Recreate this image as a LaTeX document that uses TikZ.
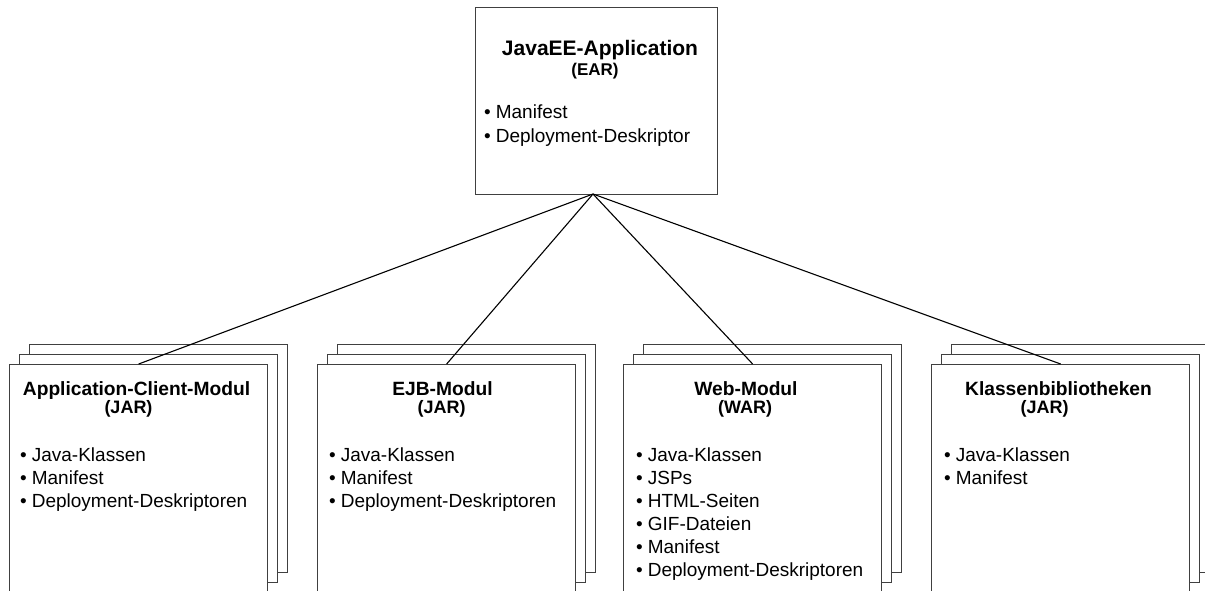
\documentclass[tikz,border=0pt]{standalone}
\usepackage{fontspec}
\setmainfont{Liberation Sans}
\definecolor{boxgray}{HTML}{404040}
\newcommand{\bul}{•\hspace{5pt}}
\begin{document}
\begin{tikzpicture}[x=1pt,y=-1pt,
  box/.style={draw=boxgray, line width=1.3pt, fill=white, inner sep=0pt, anchor=north west, minimum width=258pt},
  page/.style={box, minimum height=228pt},
  front/.style={box, minimum height=240pt},
  toptitle/.style={font=\fontsize{21}{25}\selectfont\bfseries, anchor=base, inner sep=0pt},
  topsub/.style={font=\fontsize{17}{20}\selectfont\bfseries, anchor=base, inner sep=0pt},
  title/.style={font=\fontsize{19.2}{22}\selectfont\bfseries, anchor=base, inner sep=0pt},
  sub/.style={font=\fontsize{18}{21}\selectfont\bfseries, anchor=base, inner sep=0pt},
  item/.style={font=\fontsize{19}{22}\selectfont, anchor=base west, inner sep=0pt},
  link/.style={draw=black, line width=1.1pt}]
\useasboundingbox (0,0) rectangle (1205,590);
\clip (0,0) rectangle (1205,590);

% top box
\node[box, minimum width=242pt, minimum height=187pt] (ear) at (475,7) {};
\coordinate (apex) at (593,194);
\node[toptitle] (eart) at (600,55) {JavaEE-Application};
\node[topsub] (ears) at (595,75) {(EAR)};
\node[item] (eari1) at (484,118) {\bul Manifest};
\node[item] (eari2) at (484,142) {\bul Deployment-Deskriptor};

% stacks
\foreach \n/\x in {1/9, 2/317, 3/623, 4/931}{
  \node[page] (p\n c) at (\x+20,344) {};
  \node[page] (p\n b) at (\x+10,354) {};
  \node[front] (f\n) at (\x,364) {};
}

% box 1
\node[title] (t1) at (136.5,395) {Application-Client-Modul};
\node[sub] (s1) at (128.5,413) {(JAR)};
\node[item] (i11) at (20,461) {\bul Java-Klassen};
\node[item] (i12) at (20,484) {\bul Manifest};
\node[item] (i13) at (20,507) {\bul Deployment-Deskriptoren};

% box 2
\node[title] (t2) at (442.5,395) {EJB-Modul};
\node[sub] (s2) at (441.5,413) {(JAR)};
\node[item] (i21) at (329,461) {\bul Java-Klassen};
\node[item] (i22) at (329,484) {\bul Manifest};
\node[item] (i23) at (329,507) {\bul Deployment-Deskriptoren};

% box 3
\node[title] (t3) at (746,395) {Web-Modul};
\node[sub] (s3) at (745,413) {(WAR)};
\node[item] (i31) at (636,461) {\bul Java-Klassen};
\node[item] (i32) at (636,484) {\bul JSPs};
\node[item] (i33) at (636,507) {\bul HTML-Seiten};
\node[item] (i34) at (636,530) {\bul GIF-Dateien};
\node[item] (i35) at (636,553) {\bul Manifest};
\node[item] (i36) at (636,576) {\bul Deployment-Deskriptoren};

% box 4
\node[title] (t4) at (1058.5,395) {Klassenbibliotheken};
\node[sub] (s4) at (1044.5,413) {(JAR)};
\node[item] (i41) at (944,461) {\bul Java-Klassen};
\node[item] (i42) at (944,484) {\bul Manifest};

% connectors
\foreach \n in {1,...,4}{
  \draw[link] (apex) -- (f\n.north);
}
\end{tikzpicture}
\end{document}
